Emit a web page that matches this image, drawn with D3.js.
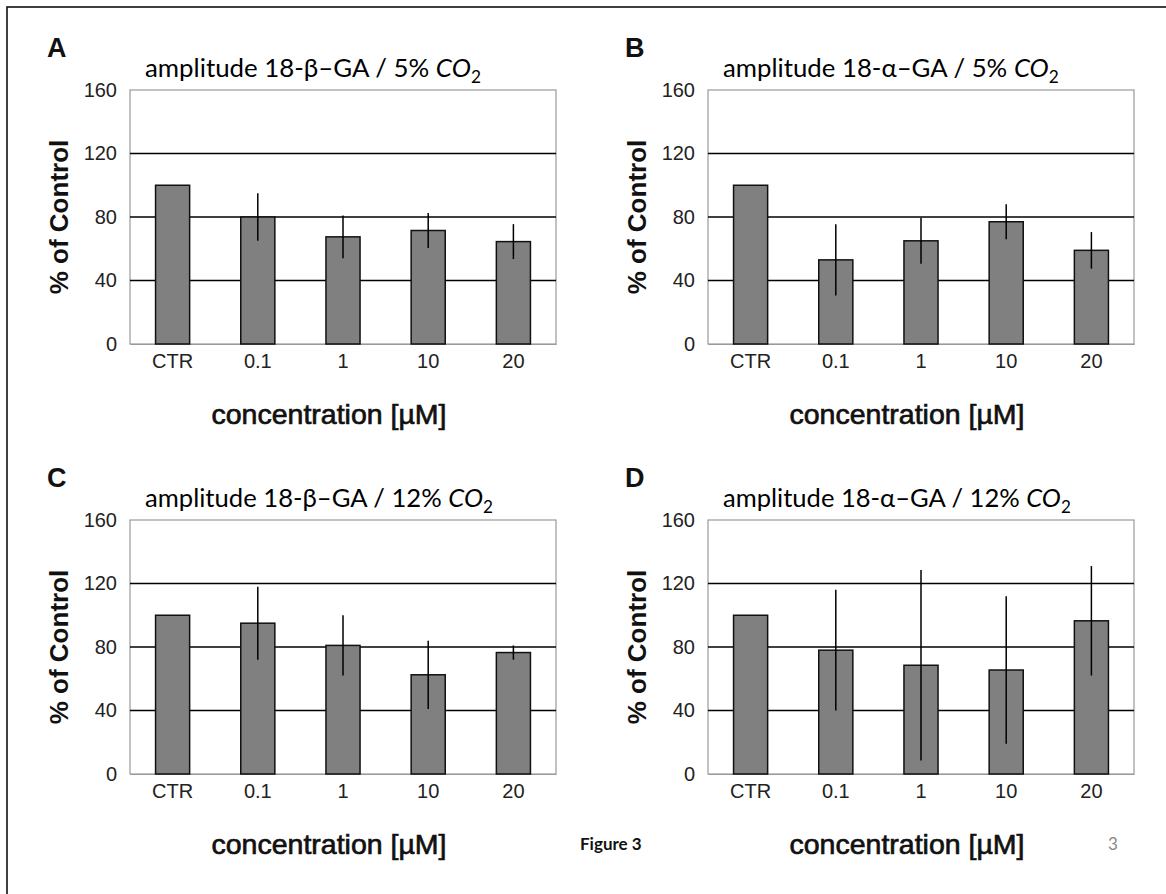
<!DOCTYPE html>
<html>
<head>
<meta charset="utf-8">
<script src="https://cdn.jsdelivr.net/npm/d3@7"></script>
<style>
  html, body { margin: 0; padding: 0; background: #fff; }
  svg { display: block; }
</style>
</head>
<body>
<svg id="chart" width="1166" height="894"></svg>
<script>
// ---- data ----
const categories = ["CTR", "0.1", "1", "10", "20"];
const yTicks = [0, 40, 80, 120, 160];

const meanA = [100, 80, 67.5, 71.5, 64.5];
const errA  = [0, 15, 13.5, 11, 11];

const meanB = [100, 53, 65, 77, 59];
const errB  = [0, 22.5, 14.5, 11, 11.5];

const meanC = [100, 95, 81, 62.5, 76.5];
const errC  = [0, 23, 19, 21.5, 4.5];

const meanD = [100, 78, 68.5, 65.5, 96.5];
const errD  = [0, 38, 60, 46.5, 34.5];

const panelLetters = ["A", "B", "C", "D"];
const titlePrefixes = [
  "amplitude 18-β–GA / 5% ",
  "amplitude 18-α–GA / 5% ",
  "amplitude 18-β–GA / 12% ",
  "amplitude 18-α–GA / 12% "
];
const yLabel = "% of Control";
const xLabel = "concentration [µM]";
const figureLabel = "Figure 3";
const pageNumber = "3";

// ---- layout ----
const svg = d3.select("#chart");
const W = 1166, H = 894;
const plotW = 426, plotH = 254;
const origins = [
  {x: 130, y: 90}, {x: 708, y: 90},
  {x: 130, y: 520}, {x: 708, y: 520}
];
const means = [meanA, meanB, meanC, meanD];
const errs = [errA, errB, errC, errD];

// outer page border (top & left visible)
svg.append("rect")
  .attr("x", 7).attr("y", 7)
  .attr("width", W + 20).attr("height", H + 20)
  .attr("fill", "none").attr("stroke", "#111").attr("stroke-width", 1.6);

const sansTick = "'Liberation Sans', Arial, sans-serif";
const titleFont = "Lato, 'Open Sans', sans-serif";

origins.forEach((o, i) => {
  const g = svg.append("g").attr("transform", `translate(${o.x},${o.y})`);
  const x = d3.scaleBand().domain(categories).range([0, plotW]).paddingInner(0.6).paddingOuter(0.3);
  const y = d3.scaleLinear().domain([0, 160]).range([plotH, 0]);

  // plot frame
  g.append("rect").attr("x", 0).attr("y", 0).attr("width", plotW).attr("height", plotH)
    .attr("fill", "#fff").attr("stroke", "#9a9a9a").attr("stroke-width", 1.2);

  // gridlines (black) at interior ticks
  g.selectAll("line.grid").data(yTicks.filter(t => t > 0 && t < 160)).join("line")
    .attr("class", "grid")
    .attr("x1", 0).attr("x2", plotW)
    .attr("y1", d => y(d)).attr("y2", d => y(d))
    .attr("stroke", "#000").attr("stroke-width", 1.5);

  // y axis tick labels
  const yAxis = d3.axisLeft(y).tickValues(yTicks).tickSize(0).tickPadding(13);
  const ya = g.append("g").call(yAxis);
  ya.select(".domain").remove();
  ya.selectAll("text").attr("font-family", sansTick).attr("font-size", 20).attr("fill", "#222");

  // x axis labels
  const xAxis = d3.axisBottom(x).tickSize(0).tickPadding(10);
  const xa = g.append("g").attr("transform", `translate(0,${plotH})`).call(xAxis);
  xa.select(".domain").attr("stroke", "#9a9a9a").attr("stroke-width", 1.2);
  xa.selectAll("text").attr("font-family", sansTick).attr("font-size", 20).attr("fill", "#222");

  // bars
  const data = categories.map((c, k) => ({c, m: means[i][k], e: errs[i][k]}));
  g.selectAll("rect.bar").data(data).join("rect")
    .attr("class", "bar")
    .attr("x", d => x(d.c)).attr("width", x.bandwidth())
    .attr("y", d => y(d.m)).attr("height", d => y(0) - y(d.m))
    .attr("fill", "#808080").attr("stroke", "#111").attr("stroke-width", 1.5);

  // error bars
  g.selectAll("line.err").data(data.filter(d => d.e > 0)).join("line")
    .attr("class", "err")
    .attr("x1", d => x(d.c) + x.bandwidth() / 2).attr("x2", d => x(d.c) + x.bandwidth() / 2)
    .attr("y1", d => y(d.m + d.e)).attr("y2", d => y(d.m - d.e))
    .attr("stroke", "#000").attr("stroke-width", 1.5);

  // panel letter
  g.append("text").attr("x", -83).attr("y", -33)
    .attr("font-family", sansTick).attr("font-weight", "bold").attr("font-size", 27)
    .attr("fill", "#111").text(panelLetters[i]);

  // title
  const t = g.append("text").attr("x", 15).attr("y", -13)
    .attr("font-family", titleFont).attr("font-size", 24).attr("fill", "#000");
  t.append("tspan").text(titlePrefixes[i]);
  t.append("tspan").attr("font-style", "italic").text("CO");
  t.append("tspan").attr("font-size", 16).attr("dy", 6).text("2");
  // fit width to reference
  const len = t.node().getComputedTextLength();
  const target = (i < 2) ? 336 : 348;
  const fs = 24 * target / len;
  t.attr("font-size", fs);
  t.select("tspan:nth-child(3)").attr("font-size", fs * 0.67).attr("dy", fs * 0.25);

  // y label
  g.append("text")
    .attr("transform", `translate(-71,${plotH / 2}) rotate(-90)`)
    .attr("text-anchor", "middle").attr("dominant-baseline", "central")
    .attr("font-family", sansTick).attr("font-weight", "bold").attr("font-size", 26)
    .attr("fill", "#111").text(yLabel);

  // x label
  g.append("text").attr("x", 199).attr("y", plotH + 80)
    .attr("text-anchor", "middle")
    .attr("font-family", sansTick).attr("font-size", 28.5)
    .attr("fill", "#111").attr("stroke", "#111").attr("stroke-width", 0.7)
    .text(xLabel);
});

// footer
svg.append("text").attr("x", 580).attr("y", 850)
  .attr("font-family", titleFont).attr("font-weight", "bold").attr("font-size", 17)
  .attr("fill", "#111").text(figureLabel);
svg.append("text").attr("x", 1108).attr("y", 850)
  .attr("font-family", titleFont).attr("font-size", 17)
  .attr("fill", "#888").text(pageNumber);
</script>
</body>
</html>
